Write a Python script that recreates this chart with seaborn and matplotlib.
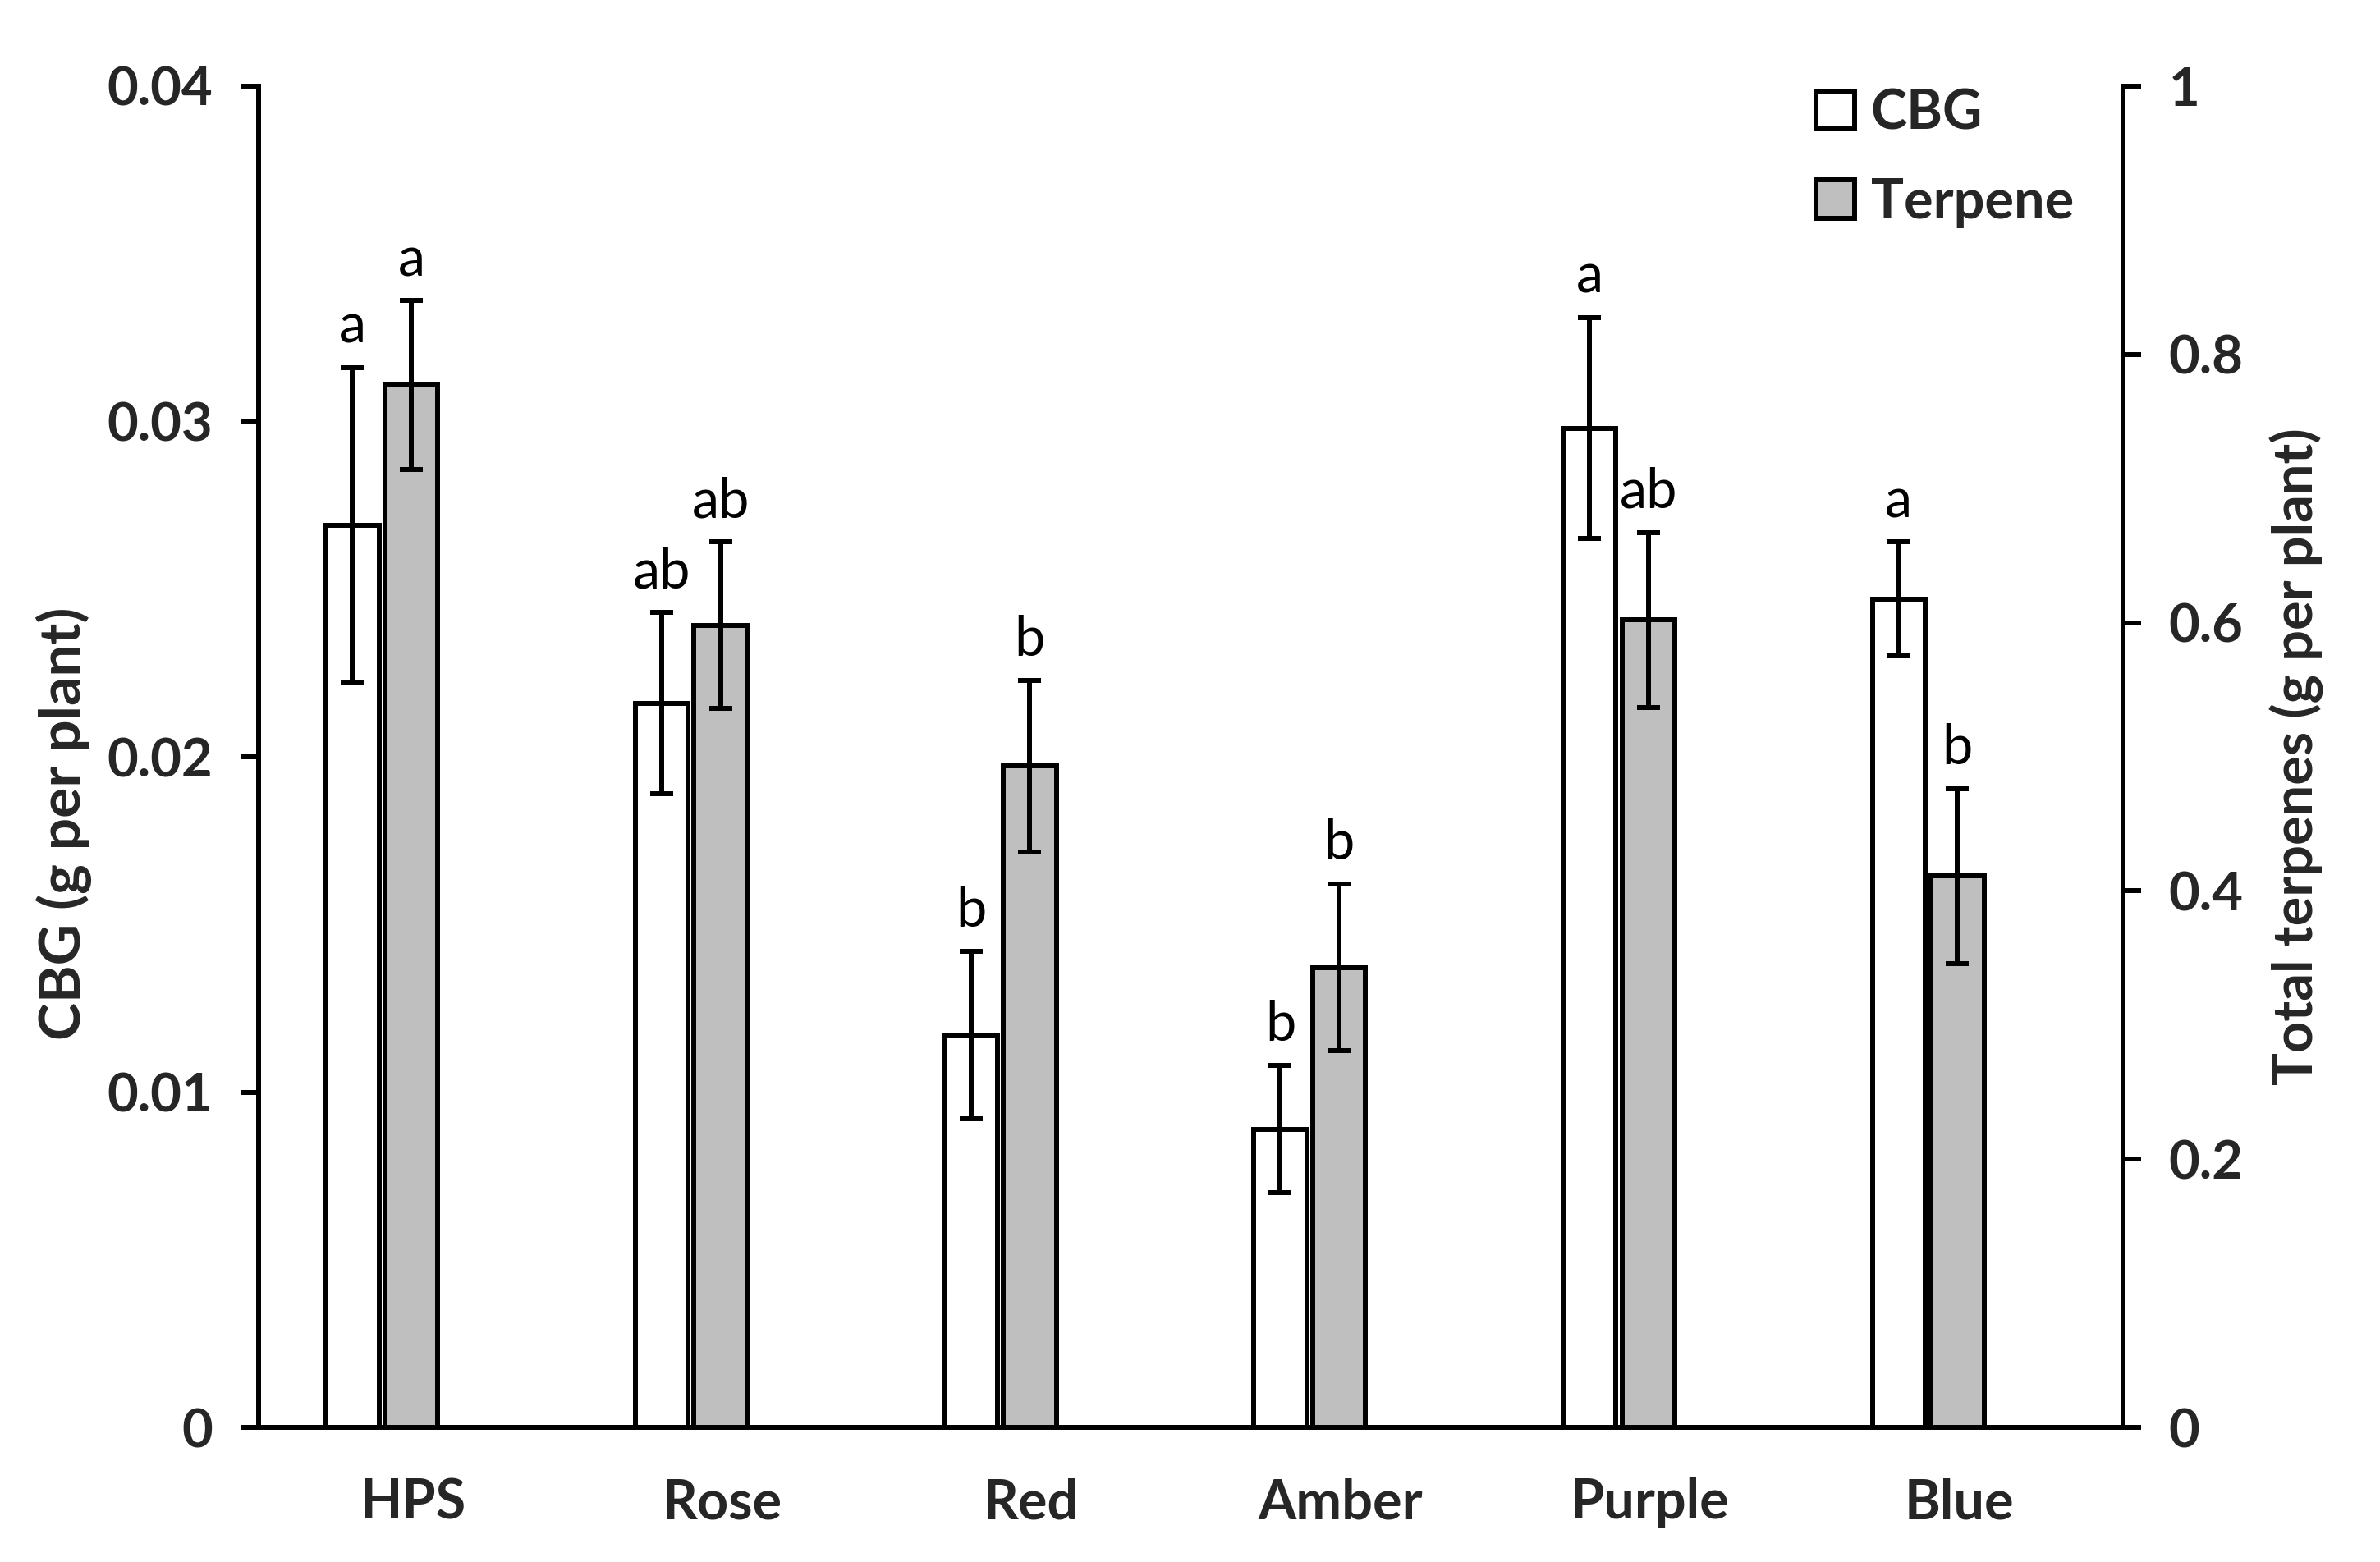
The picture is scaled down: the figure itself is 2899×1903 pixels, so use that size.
"""
CBG and total terpene yield per plant under different light treatments.
"""

import numpy as np
import pandas as pd
import matplotlib
matplotlib.use('Agg')
import matplotlib.pyplot as plt
from matplotlib.patches import Patch
import seaborn as sns

# data
lights = ['HPS', 'Rose', 'Red', 'Amber', 'Purple', 'Blue']
cbg_mean = [0.0269, 0.0216, 0.0117, 0.0089, 0.0298, 0.0247]
cbg_se = [0.0047, 0.0027, 0.0025, 0.0019, 0.0033, 0.0017]
terp_mean = [0.777, 0.598, 0.493, 0.343, 0.602, 0.411]
terp_se = [0.063, 0.062, 0.064, 0.062, 0.065, 0.065]
cbg_letters = ['a', 'ab', 'b', 'b', 'a', 'a']
terp_letters = ['a', 'ab', 'b', 'b', 'ab', 'b']

sns.set_theme(style='white')
plt.rcParams['font.family'] = ['Lato', 'DejaVu Sans']

GREY = '#bfbfbf'
LW = 4.3
TICK_FS = 47

df_cbg = pd.DataFrame({'light': lights, 'value': cbg_mean, 'series': 'CBG'})
df_terp = pd.DataFrame({'light': lights, 'value': terp_mean, 'series': 'Terpene'})


def draw_series(df, ax, se, letters):
    """Bars for one series (dodged by hue), error bars and letters."""
    sns.barplot(data=df, x='light', y='value', hue='series', hue_order=['CBG', 'Terpene'],
                palette={'CBG': 'white', 'Terpene': GREY}, width=0.38, gap=0.1,
                dodge=True, edgecolor='black', linewidth=LW, errorbar=None,
                legend=False, ax=ax)
    xs = [p.get_x() + p.get_width() / 2 for p in ax.patches]
    ax.errorbar(xs, df['value'], yerr=se, fmt='none', ecolor='black',
                elinewidth=LW, capsize=10, capthick=LW, zorder=5)
    for x, m, e, lab in zip(xs, df['value'], se, letters):
        ax.annotate(lab, (x, m + e), xytext=(0, 13), textcoords='offset points',
                    ha='center', va='bottom', fontsize=48, color='black')


fig, ax = plt.subplots(figsize=(28.99, 19.03), dpi=100)
fig.subplots_adjust(left=0.1085, right=0.892, top=0.945, bottom=0.086)

draw_series(df_cbg, ax, cbg_se, cbg_letters)
ax2 = ax.twinx()
draw_series(df_terp, ax2, terp_se, terp_letters)

# axes limits and ticks
ax.set_ylim(0, 0.04)
ax.set_yticks([0, 0.01, 0.02, 0.03, 0.04], ['0', '0.01', '0.02', '0.03', '0.04'])
ax2.set_ylim(0, 1)
ax2.set_yticks([0, 0.2, 0.4, 0.6, 0.8, 1.0], ['0', '0.2', '0.4', '0.6', '0.8', '1'])
ax.set_xlim(-0.40, 5.63)
ax.set_xticks(np.arange(len(lights)) + 0.1, lights)

for a in (ax, ax2):
    a.set_xlabel('')
    for s in a.spines.values():
        s.set_visible(False)
    a.tick_params(axis='y', length=16, width=LW, color='black', labelsize=TICK_FS,
                  pad=24, direction='out')
    for t in a.get_yticklabels():
        t.set_fontweight('bold')

for a, side in ((ax, 'left'), (ax, 'bottom'), (ax2, 'right')):
    a.spines[side].set_visible(True)
    a.spines[side].set_linewidth(LW)
    a.spines[side].set_color('black')

ax.tick_params(axis='x', length=0, labelsize=TICK_FS + 1, pad=44)
for t in ax.get_xticklabels():
    t.set_fontweight('bold')
ax.tick_params(axis='y', left=True)
ax2.tick_params(axis='y', right=True)

ax.set_ylabel('CBG (g per plant)', fontsize=50, fontweight='bold')
ax.yaxis.set_label_coords(-0.089, 0.45)
ax2.set_ylabel('Total terpenes (g per plant)', fontsize=48, fontweight='bold')
ax2.yaxis.set_label_coords(1.079, 0.5)

handles = [Patch(facecolor='white', edgecolor='black', linewidth=LW, label='CBG'),
           Patch(facecolor=GREY, edgecolor='black', linewidth=LW, label='Terpene')]
ax2.legend(handles=handles, loc='upper right', bbox_to_anchor=(1.0, 1.035),
           frameon=False, handlelength=0.7, handleheight=0.7, handletextpad=0.3,
           labelspacing=0.7, prop={'size': 48, 'weight': 'bold'})

fig.savefig('out.png', dpi=100)
